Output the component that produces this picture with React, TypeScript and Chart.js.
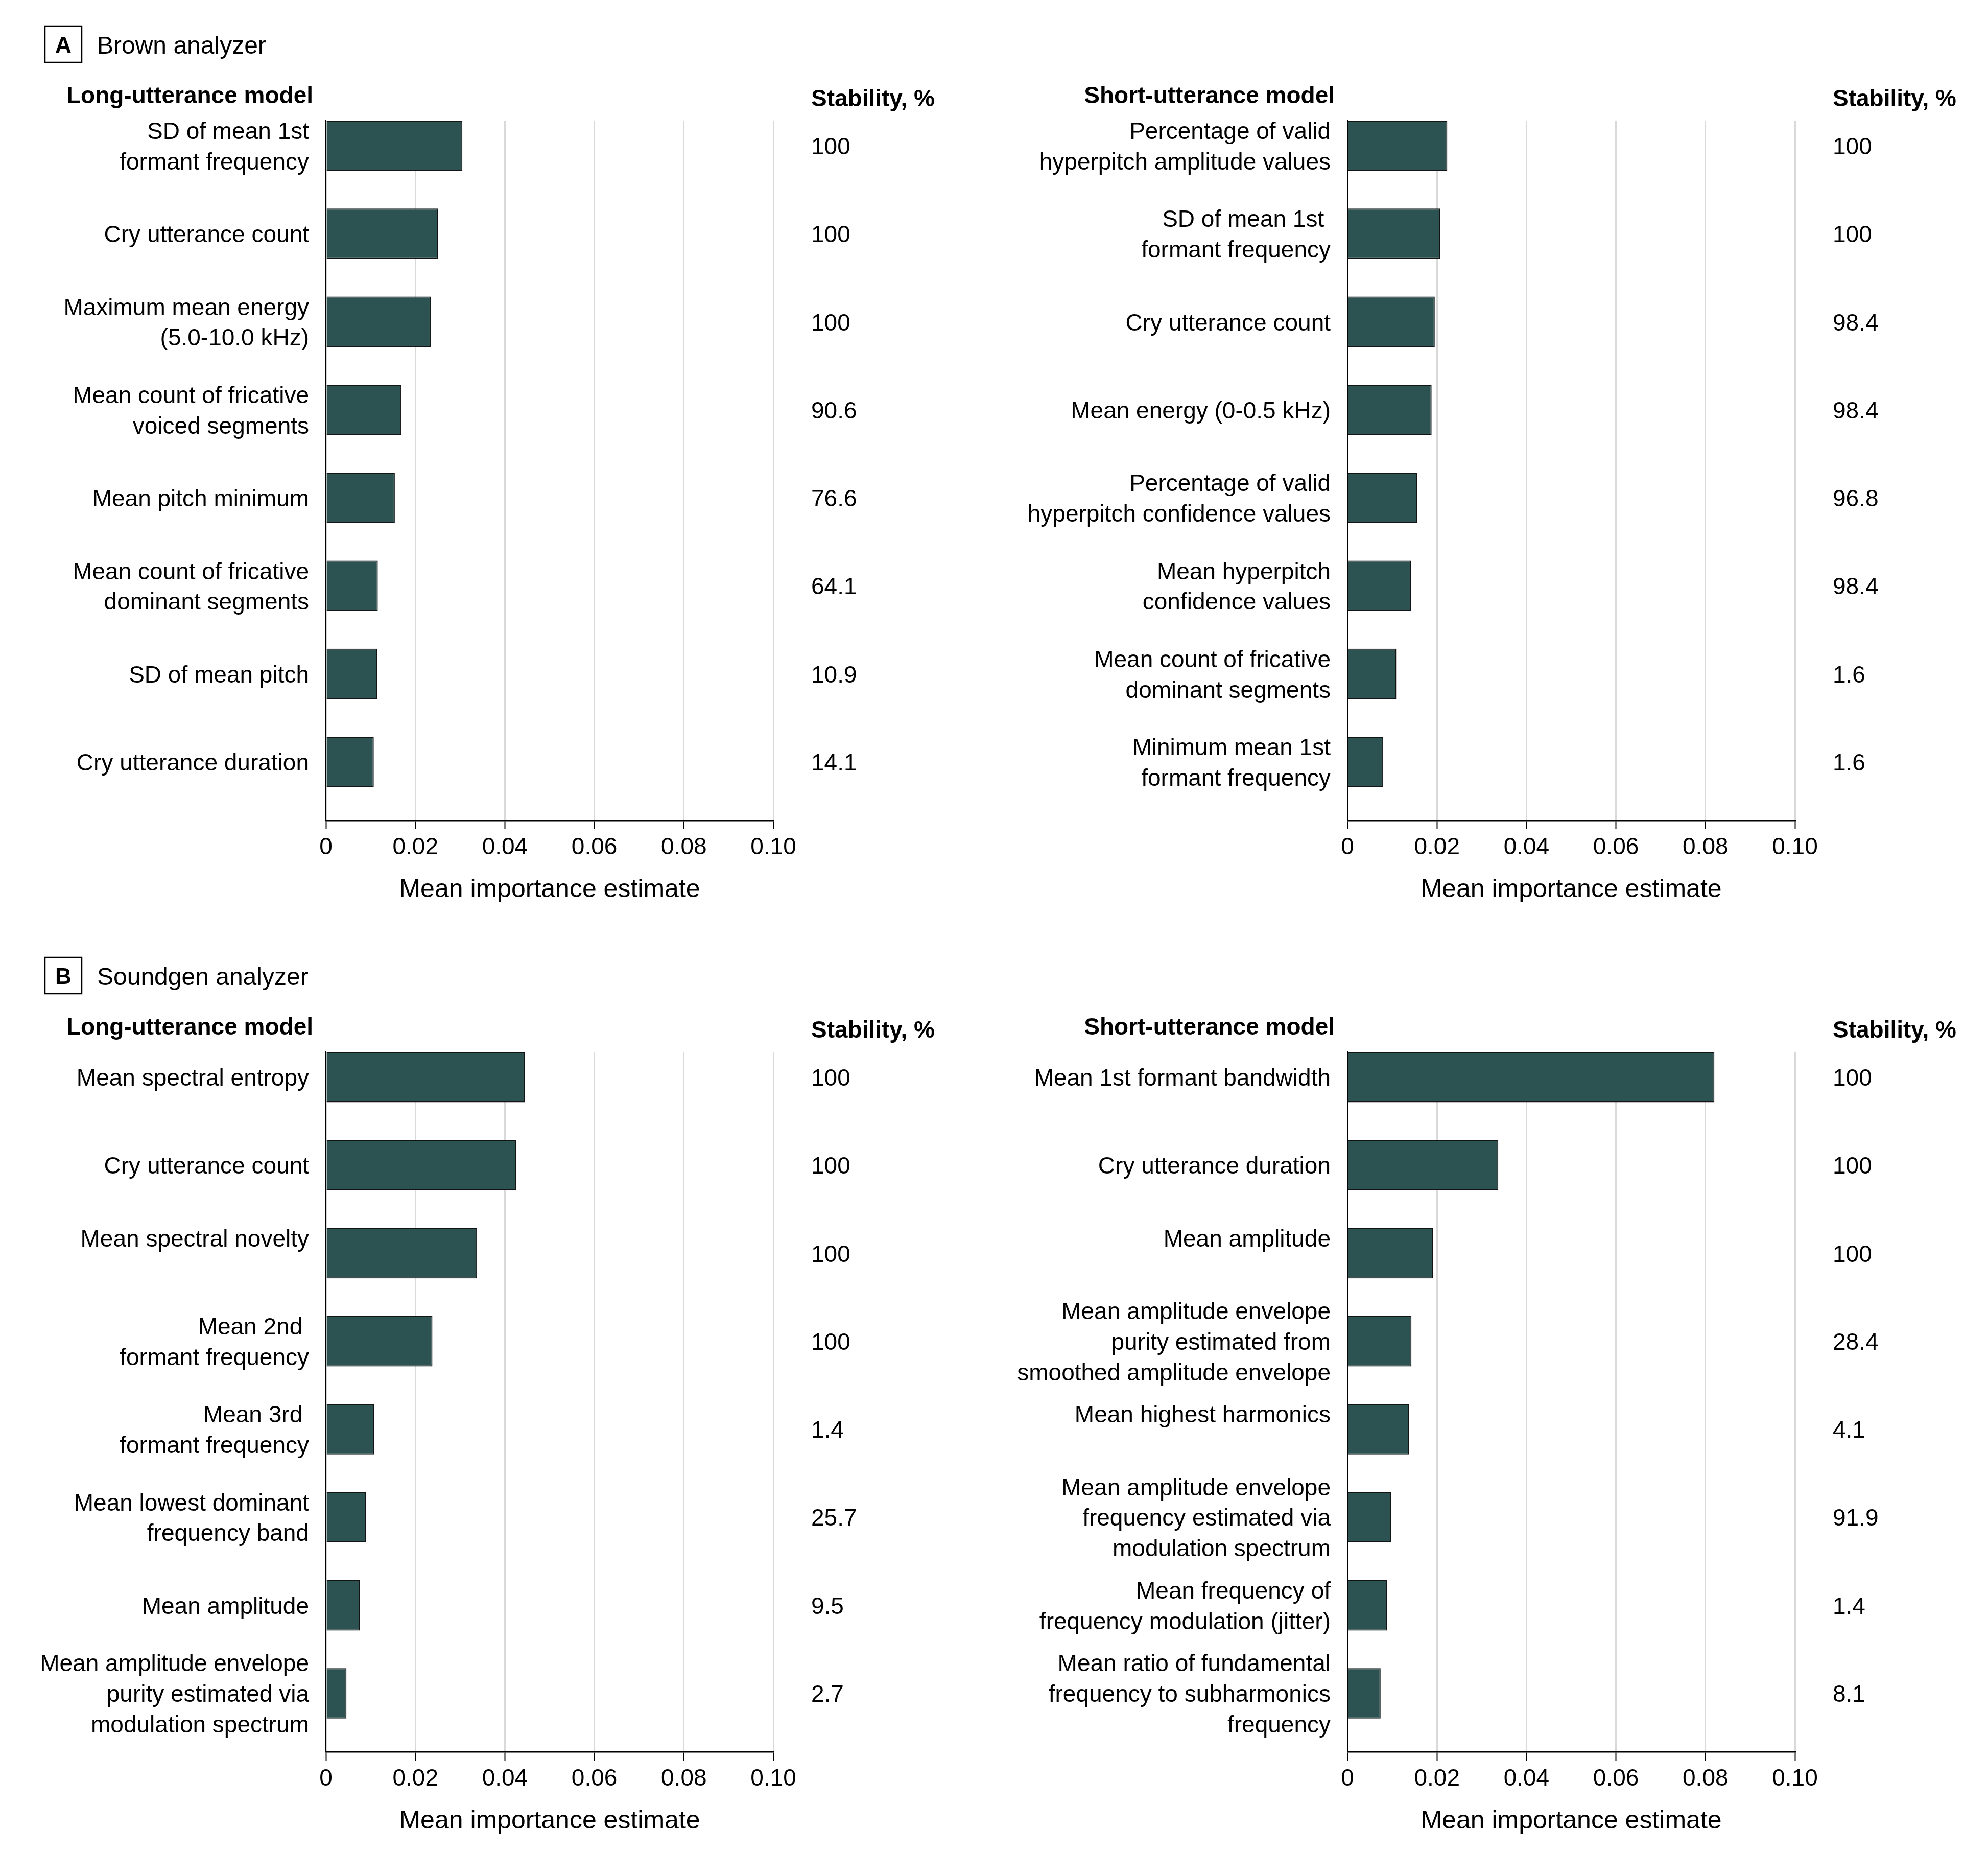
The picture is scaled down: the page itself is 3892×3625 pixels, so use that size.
import React, { useEffect, useRef } from 'react';
import { Chart, registerables } from 'chart.js';

Chart.register(...registerables);

const FONT = "'Liberation Sans', Arial, Helvetica, sans-serif";

// ---- shared axis data ----
const X_TICKS = [0, 0.02, 0.04, 0.06, 0.08, 0.1];
const X_TICK_LABELS = ['0', '0.02', '0.04', '0.06', '0.08', '0.10'];
const X_TITLE = 'Mean importance estimate';
const STABILITY_HEADING = 'Stability, %';

// ---- Panel A: Brown analyzer ----
const A_TITLE_LETTER = 'A';
const A_TITLE = 'Brown analyzer';

const A_LONG_HEADING = 'Long-utterance model';
const A_LONG_LABELS: (string | string[])[] = [
  ['SD of mean 1st', 'formant frequency'],
  'Cry utterance count',
  ['Maximum mean energy', '(5.0-10.0 kHz)'],
  ['Mean count of fricative', 'voiced segments'],
  'Mean pitch minimum',
  ['Mean count of fricative', 'dominant segments'],
  'SD of mean pitch',
  'Cry utterance duration',
];
const A_LONG_VALUES = [0.0305, 0.025, 0.0234, 0.0169, 0.0154, 0.0116, 0.0115, 0.0107];
const A_LONG_STABILITY = ['100', '100', '100', '90.6', '76.6', '64.1', '10.9', '14.1'];

const A_SHORT_HEADING = 'Short-utterance model';
const A_SHORT_LABELS: (string | string[])[] = [
  ['Percentage of valid', 'hyperpitch amplitude values'],
  ['SD of mean 1st ', 'formant frequency'],
  'Cry utterance count',
  'Mean energy (0-0.5 kHz)',
  ['Percentage of valid', 'hyperpitch confidence values'],
  ['Mean hyperpitch', 'confidence values'],
  ['Mean count of fricative', 'dominant segments'],
  ['Minimum mean 1st', 'formant frequency'],
];
const A_SHORT_VALUES = [0.0223, 0.0207, 0.0195, 0.0188, 0.0156, 0.0142, 0.0109, 0.008];
const A_SHORT_STABILITY = ['100', '100', '98.4', '98.4', '96.8', '98.4', '1.6', '1.6'];

// ---- Panel B: Soundgen analyzer ----
const B_TITLE_LETTER = 'B';
const B_TITLE = 'Soundgen analyzer';

const B_LONG_HEADING = 'Long-utterance model';
const B_LONG_LABELS: (string | string[])[] = [
  'Mean spectral entropy',
  'Cry utterance count',
  ['Mean spectral novelty', ''],
  ['Mean 2nd ', 'formant frequency'],
  ['Mean 3rd ', 'formant frequency'],
  ['Mean lowest dominant', 'frequency band'],
  'Mean amplitude',
  ['Mean amplitude envelope', 'purity estimated via', 'modulation spectrum'],
];
const B_LONG_VALUES = [0.0445, 0.0425, 0.0338, 0.0238, 0.0108, 0.009, 0.0076, 0.0046];
const B_LONG_STABILITY = ['100', '100', '100', '100', '1.4', '25.7', '9.5', '2.7'];

const B_SHORT_HEADING = 'Short-utterance model';
const B_SHORT_LABELS: (string | string[])[] = [
  'Mean 1st formant bandwidth',
  'Cry utterance duration',
  ['Mean amplitude', ''],
  ['Mean amplitude envelope', 'purity estimated from', 'smoothed amplitude envelope'],
  ['Mean highest harmonics', ''],
  ['Mean amplitude envelope', 'frequency estimated via', 'modulation spectrum'],
  ['Mean frequency of', 'frequency modulation (jitter)'],
  ['Mean ratio of fundamental', 'frequency to subharmonics', 'frequency'],
];
const B_SHORT_VALUES = [0.082, 0.0337, 0.0191, 0.0143, 0.0137, 0.0098, 0.0088, 0.0074];
const B_SHORT_STABILITY = ['100', '100', '100', '28.4', '4.1', '91.9', '1.4', '8.1'];

// ---- styling ----
const BAR_FILL = '#2c5352';
const BAR_EDGE = '#141414';
const GRID = '#d9d9d9';
const INK = '#000000';

type PanelProps = {
  left: number;
  top: number;
  width: number;
  height: number;
  dx: number;
  heading: string;
  labels: (string | string[])[];
  values: number[];
  stability: string[];
  titleLetter?: string;
  titleText?: string;
};

function BarPanel(p: PanelProps) {
  const ref = useRef<HTMLCanvasElement>(null);

  useEffect(() => {
    const canvas = ref.current;
    if (!canvas) return;
    const idx = p.values.map((_, i) => i);
    const plotLeft = 638 + p.dx;
    const plotRight = 1514 + p.dx;
    const plotTop = 236;
    const plotBottom = 1606;
    const xAxisBox = 166;
    const stabX = 1588 + p.dx;
    const textDrop = 4;

    const overlay = {
      id: 'overlay',
      afterDraw(chart: any) {
        const { ctx, chartArea, scales } = chart;
        ctx.save();
        ctx.fillStyle = INK;
        ctx.textBaseline = 'alphabetic';
        ctx.font = `bold 46px ${FONT}`;
        ctx.textAlign = 'right';
        ctx.fillText(p.heading, chartArea.left - 25, 202);
        ctx.textAlign = 'left';
        ctx.fillText(STABILITY_HEADING, stabX, 208);

        ctx.font = `46px ${FONT}`;
        ctx.textBaseline = 'middle';
        p.stability.forEach((s, i) => {
          ctx.fillText(s, stabX, scales.y.getPixelForValue(i) + textDrop);
        });

        if (p.titleLetter) {
          ctx.strokeStyle = INK;
          ctx.lineWidth = 2.5;
          ctx.strokeRect(88 + p.dx, 51, 72, 71);
          ctx.textBaseline = 'alphabetic';
          ctx.textAlign = 'center';
          ctx.font = `bold 44px ${FONT}`;
          ctx.fillText(p.titleLetter, 124 + p.dx, 103);
          ctx.textAlign = 'left';
          ctx.font = `48px ${FONT}`;
          ctx.fillText(p.titleText || '', 190 + p.dx, 105);
        }
        ctx.restore();
      },
    };

    const chart = new Chart(canvas, {
      type: 'bar',
      data: {
        datasets: [
          {
            data: p.values.map((v, i) => ({ x: v, y: i })),
            backgroundColor: BAR_FILL,
            borderColor: BAR_EDGE,
            borderWidth: 2,
            categoryPercentage: 1,
            barPercentage: 0.572,
          } as any,
        ],
      },
      options: {
        indexAxis: 'y',
        responsive: false,
        animation: false,
        devicePixelRatio: 1,
        layout: {
          padding: {
            left: 0,
            right: p.width - plotRight,
            top: plotTop,
            bottom: p.height - plotBottom - xAxisBox,
          },
        },
        plugins: {
          legend: { display: false },
          tooltip: { enabled: false },
          title: { display: false },
        },
        scales: {
          x: {
            type: 'linear',
            position: 'bottom',
            min: 0,
            max: 0.1,
            offset: false,
            afterBuildTicks: (s: any) => {
              s.ticks = X_TICKS.map((v) => ({ value: v }));
            },
            afterFit: (s: any) => {
              s.height = xAxisBox;
            },
            ticks: {
              callback: (_v: any, i: number) => X_TICK_LABELS[i],
              font: { family: FONT, size: 46 },
              color: INK,
              padding: 9,
              maxRotation: 0,
              minRotation: 0,
              autoSkip: false,
            },
            grid: {
              color: GRID,
              lineWidth: 3,
              drawTicks: true,
              tickLength: 17,
              tickColor: INK,
              tickWidth: 2,
              offset: false,
            },
            border: { color: INK, width: 2.5 },
            title: {
              display: true,
              text: X_TITLE,
              font: { family: FONT, size: 50 },
              color: INK,
              padding: 0,
            },
          },
          y: {
            type: 'linear',
            reverse: true,
            offset: false,
            bounds: 'data',
            min: -0.286,
            max: 7.665,
            afterBuildTicks: (s: any) => {
              s.ticks = idx.map((v) => ({ value: v }));
            },
            afterFit: (s: any) => {
              s.width = plotLeft;
            },
            ticks: {
              callback: (v: any) => p.labels[Math.round(Number(v))],
              font: { family: FONT, size: 46, lineHeight: 1.3 },
              color: INK,
              padding: 25,
              labelOffset: textDrop,
              autoSkip: false,
            },
            grid: { display: false, offset: false },
            border: { color: INK, width: 2 },
          },
        },
      } as any,
      plugins: [overlay],
    });

    return () => chart.destroy();
  }, []);

  return (
    <canvas
      ref={ref}
      width={p.width}
      height={p.height}
      style={{ position: 'absolute', left: p.left, top: p.top, width: p.width, height: p.height }}
    />
  );
}

export default function App() {
  return (
    <div
      style={{
        position: 'absolute',
        left: 0,
        top: 0,
        width: 3892,
        height: 3625,
        overflow: 'hidden',
        background: '#ffffff',
      }}
    >
      <BarPanel
        left={0}
        top={0}
        width={1950}
        height={1802}
        dx={0}
        heading={A_LONG_HEADING}
        labels={A_LONG_LABELS}
        values={A_LONG_VALUES}
        stability={A_LONG_STABILITY}
        titleLetter={A_TITLE_LETTER}
        titleText={A_TITLE}
      />
      <BarPanel
        left={1950}
        top={0}
        width={1942}
        height={1802}
        dx={50}
        heading={A_SHORT_HEADING}
        labels={A_SHORT_LABELS}
        values={A_SHORT_VALUES}
        stability={A_SHORT_STABILITY}
      />
      <BarPanel
        left={0}
        top={1823}
        width={1950}
        height={1802}
        dx={0}
        heading={B_LONG_HEADING}
        labels={B_LONG_LABELS}
        values={B_LONG_VALUES}
        stability={B_LONG_STABILITY}
        titleLetter={B_TITLE_LETTER}
        titleText={B_TITLE}
      />
      <BarPanel
        left={1950}
        top={1823}
        width={1942}
        height={1802}
        dx={50}
        heading={B_SHORT_HEADING}
        labels={B_SHORT_LABELS}
        values={B_SHORT_VALUES}
        stability={B_SHORT_STABILITY}
      />
    </div>
  );
}
